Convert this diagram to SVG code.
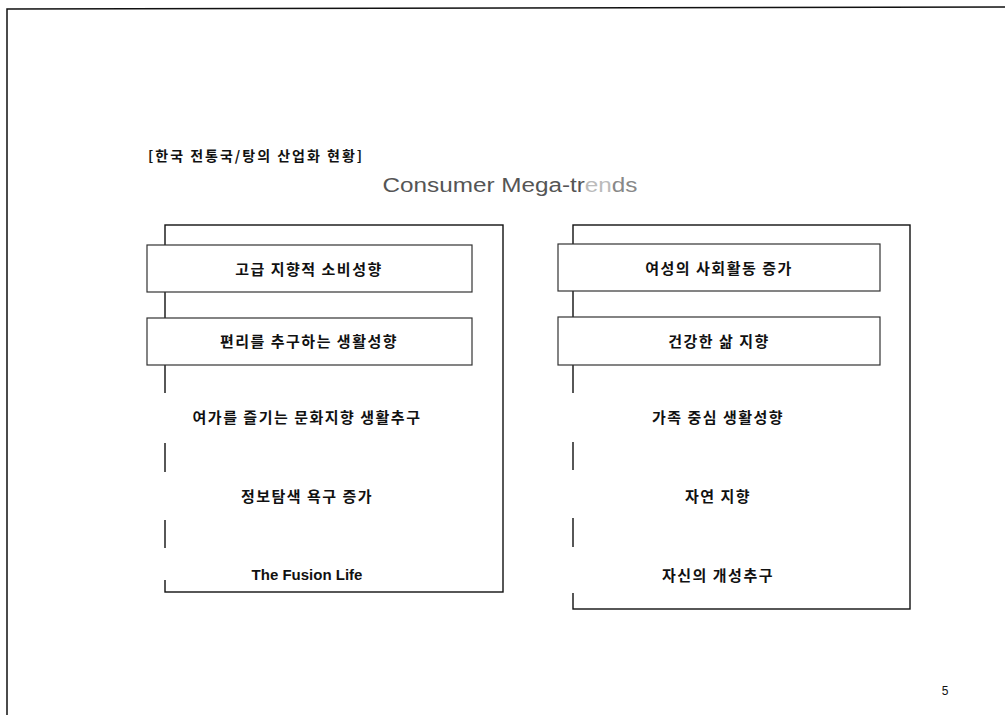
<svg xmlns="http://www.w3.org/2000/svg" width="1005" height="715" viewBox="0 0 1005 715">
<style>
.frame{fill:none;stroke:#111;stroke-width:1.5}
.outer{fill:none;stroke:#111;stroke-width:1.4}
.box{fill:#fff;stroke:#333;stroke-width:1.2}
.mask{fill:#fff;stroke:none}
.ko{font-family:"Noto Sans CJK KR","Noto Sans",sans-serif;font-weight:bold;font-size:15px;fill:#111;text-anchor:middle;letter-spacing:1.5px}
.en{font-family:"Liberation Sans",Arial,sans-serif;font-weight:bold;font-size:15px;fill:#111;text-anchor:middle}
</style>
<rect width="1005" height="715" fill="#fff"/>
<path class="frame" d="M7,715 V9 L1005,7"/>
<text x="148" y="161" font-family="'Noto Sans CJK KR','Noto Sans',sans-serif" font-weight="bold" font-size="14" letter-spacing="2" fill="#111">[한국 전통국/탕의 산업화 현황]</text>
<text x="510" y="192" font-family="'Liberation Sans',Arial,sans-serif" font-size="20" fill="#555" text-anchor="middle" textLength="255" lengthAdjust="spacingAndGlyphs">Consumer Mega-tr<tspan fill="#bbb">en</tspan><tspan fill="#888">ds</tspan></text>
<g id="left-panel">
<rect class="outer" x="165" y="225" width="338" height="367"/>
<g id="n-l1"><rect class="box" x="147" y="245" width="325" height="47"/><text class="ko" x="309" y="275">고급 지향적 소비성향</text></g>
<g id="n-l2"><rect class="box" x="147" y="318" width="325" height="47"/><text class="ko" x="309" y="347">편리를 추구하는 생활성향</text></g>
<g id="n-l3"><rect class="mask" x="147" y="393" width="325" height="50"/><text class="ko" x="307" y="423">여가를 즐기는 문화지향 생활추구</text></g>
<g id="n-l4"><rect class="mask" x="147" y="472" width="325" height="48"/><text class="ko" x="307" y="502">정보탐색 욕구 증가</text></g>
<g id="n-l5"><rect class="mask" x="147" y="548" width="325" height="32"/><text class="en" x="307" y="580">The Fusion Life</text></g>
</g>
<g id="right-panel">
<rect class="outer" x="573" y="225" width="337" height="384"/>
<g id="n-r1"><rect class="box" x="558" y="244" width="322" height="47"/><text class="ko" x="719" y="274">여성의 사회활동 증가</text></g>
<g id="n-r2"><rect class="box" x="558" y="317" width="322" height="48"/><text class="ko" x="719" y="347">건강한 삶 지향</text></g>
<g id="n-r3"><rect class="mask" x="558" y="393" width="322" height="49"/><text class="ko" x="718" y="423">가족 중심 생활성향</text></g>
<g id="n-r4"><rect class="mask" x="558" y="470" width="322" height="48"/><text class="ko" x="718" y="502">자연 지향</text></g>
<g id="n-r5"><rect class="mask" x="558" y="547" width="322" height="46"/><text class="ko" x="718" y="581">자신의 개성추구</text></g>
</g>
<g id="connectors"></g>
<text x="945" y="695" font-family="'Liberation Sans',Arial,sans-serif" font-size="12" fill="#111" text-anchor="middle">5</text>
</svg>
